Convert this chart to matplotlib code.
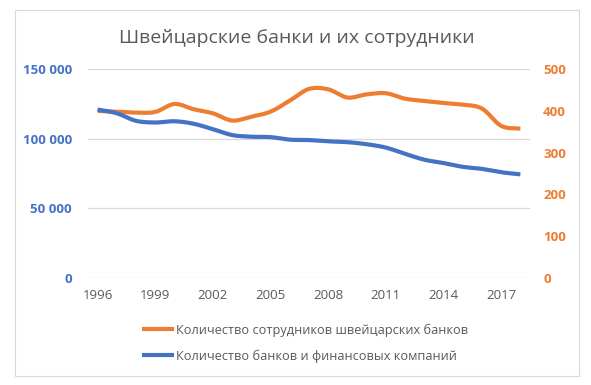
import numpy as np
import matplotlib
matplotlib.use('Agg')
import matplotlib.pyplot as plt
from matplotlib.patches import Rectangle

# ---- data ----
years = list(range(1996, 2019))
employees = [119900, 119400, 118700, 119200, 124900, 121100, 118200, 113000,
             115800, 119400, 127300, 135700, 135400, 129500, 131800, 132600,
             128700, 127100, 125600, 124400, 121600, 109200, 107200]
banks = [403, 394, 376, 372, 375, 369, 356, 342, 338, 337, 331, 330, 327,
         325, 320, 312, 297, 283, 275, 266, 261, 253, 248]

left_ticks = [0, 50000, 100000, 150000]
left_labels = ['0', '50 000', '100 000', '150 000']
right_ticks = [0, 100, 200, 300, 400, 500]
x_ticks = [1996, 1999, 2002, 2005, 2008, 2011, 2014, 2017]

title = 'Швейцарские банки и их сотрудники'
lab_emp = 'Количество сотрудников швейцарских банков'
lab_banks = 'Количество банков и финансовых компаний'

C_BLUE = '#4472C4'
C_ORANGE = '#ED7D31'
C_TEXT = '#595959'
C_GRID = '#D9D9D9'


def smooth(x, y, n=20):
    # Catmull-Rom curve through the points (like Excel's smoothed line)
    x = np.asarray(x, float); y = np.asarray(y, float)
    px = np.concatenate([[2*x[0]-x[1]], x, [2*x[-1]-x[-2]]])
    py = np.concatenate([[2*y[0]-y[1]], y, [2*y[-1]-y[-2]]])
    t = np.linspace(0, 1, n, endpoint=False)
    xs, ys = [], []
    for i in range(1, len(px) - 2):
        for p, out in ((px, xs), (py, ys)):
            p0, p1, p2, p3 = p[i-1], p[i], p[i+1], p[i+2]
            out.append(0.5*((2*p1) + (-p0+p2)*t + (2*p0-5*p1+4*p2-p3)*t**2
                            + (-p0+3*p1-3*p2+p3)*t**3))
    xs.append([x[-1]]); ys.append([y[-1]])
    return np.concatenate(xs), np.concatenate(ys)


plt.rcParams['font.family'] = ['Open Sans', 'DejaVu Sans']

fig = plt.figure(figsize=(5.91, 3.85), dpi=100)
fig.patch.set_facecolor('white')
fig.patches.append(Rectangle((15/591, 1-376/385), 564/591, 366/385,
                             transform=fig.transFigure, fill=False,
                             edgecolor='#D9D9D9', lw=0.8))

ax = fig.add_axes([88/591, 1-278/385, 442/591, 209/385])
ax2 = ax.twinx()

sx, sy = smooth(years, employees)
l1, = ax.plot(sx, sy, color=C_ORANGE, lw=3, solid_capstyle='butt', zorder=3)
bx, by = smooth(years, banks)
l2, = ax2.plot(bx, by, color=C_BLUE, lw=3, solid_capstyle='butt', zorder=3)

ax.set_xlim(1995.5, 2018.5)
ax.set_ylim(0, 150000)
ax2.set_ylim(0, 500)
ax.set_xticks(x_ticks)
ax.set_xticklabels([str(v) for v in x_ticks], color=C_TEXT, fontsize=9.5)
ax.set_yticks(left_ticks)
ax.set_yticklabels(left_labels, color=C_BLUE, fontsize=9.5, fontweight='bold')
ax2.set_yticks(right_ticks)
ax2.set_yticklabels([str(v) for v in right_ticks], color=C_ORANGE,
                    fontsize=9.5, fontweight='bold')
ax.tick_params(axis='x', length=0, pad=8)
ax.tick_params(axis='y', length=0, pad=11.5)
ax2.tick_params(axis='y', length=0, pad=9.5)
ax.grid(axis='y', color=C_GRID, lw=0.9)
ax.set_axisbelow(True)
for a in (ax, ax2):
    for s in a.spines.values():
        s.set_visible(False)

fig.text(297/591, 1-38/385, title, ha='center', va='center',
         fontsize=14, color=C_TEXT)

fig.legend([l1, l2], [lab_emp, lab_banks], loc='center',
           bbox_to_anchor=(305/591, 1-343/385), frameon=False, ncol=1,
           fontsize=9.2, handlelength=2.5, handletextpad=0.1,
           labelspacing=1.0, labelcolor=C_TEXT)

fig.savefig('out.png', dpi=100, facecolor='white')
